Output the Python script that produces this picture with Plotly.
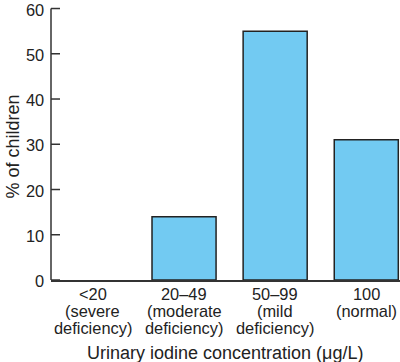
import plotly.graph_objects as go

categories = ["<20", "20–49", "50–99", "100"]
sublabels = [["(severe", "deficiency)"], ["(moderate", "deficiency)"], ["(mild", "deficiency)"], ["(normal)"]]
values = [0, 14, 55, 31]
yticks = [0, 10, 20, 30, 40, 50, 60]
x_title = "Urinary iodine concentration (μg/L)"
y_title = "% of children"

xs = list(range(len(categories)))

fig = go.Figure()
fig.add_trace(go.Bar(
    x=xs, y=values, width=0.703,
    marker=dict(color="#72CAF2",
                line=dict(color="#222222", width=[1.5 if v > 0 else 0 for v in values])),
))

tick_font = dict(family="Liberation Sans, Arial, sans-serif", size=16.4, color="#222222")
title_font = dict(family="Liberation Sans, Arial, sans-serif", size=18, color="#222222")
axis_color = "#333333"

annotations = []
shapes = []
for x, c, s in zip(xs, categories, sublabels):
    for i, line in enumerate([c] + s):
        annotations.append(dict(
            x=x, y=0, xref="x", yref="paper", text=line, showarrow=False,
            xanchor="center", yanchor="middle", yshift=-14 - 17 * i, font=tick_font,
        ))
for t in yticks:
    annotations.append(dict(
        x=0, y=t, xref="paper", yref="y", text=str(t), showarrow=False,
        xanchor="right", yanchor="middle", xshift=-5, yshift=-1, font=tick_font,
    ))
    shapes.append(dict(
        type="line", xref="paper", yref="y", xsizemode="pixel", xanchor=0,
        x0=0, x1=9, y0=t, y1=t, line=dict(color=axis_color, width=1.5),
    ))
shapes.append(dict(type="line", xref="paper", yref="y", x0=0, x1=0, y0=0, y1=yticks[-1],
                   line=dict(color=axis_color, width=1.5)))
annotations.append(dict(
    x=0.5, y=0, xref="paper", yref="paper", text=x_title, showarrow=False,
    xanchor="center", yanchor="middle", yshift=-73, font=title_font,
))
annotations.append(dict(
    x=0, y=0.5, xref="paper", yref="paper", text=y_title, showarrow=False,
    textangle=-90, xanchor="center", yanchor="middle", xshift=-38.5, yshift=-5,
    font=title_font,
))

fig.update_layout(
    width=400, height=362,
    margin=dict(l=51, r=0, t=4, b=82),
    paper_bgcolor="white", plot_bgcolor="white",
    showlegend=False, font=tick_font,
    annotations=annotations, shapes=shapes,
    xaxis=dict(
        range=[-0.46, 3.37], tickvals=xs, showticklabels=False,
        showline=True, linecolor=axis_color, linewidth=1.5,
        ticks="", showgrid=False, zeroline=False,
    ),
    yaxis=dict(
        range=[0, 61], showline=False, showticklabels=False, ticks="",
        showgrid=False, zeroline=False,
    ),
)
fig.write_html("out.html")
